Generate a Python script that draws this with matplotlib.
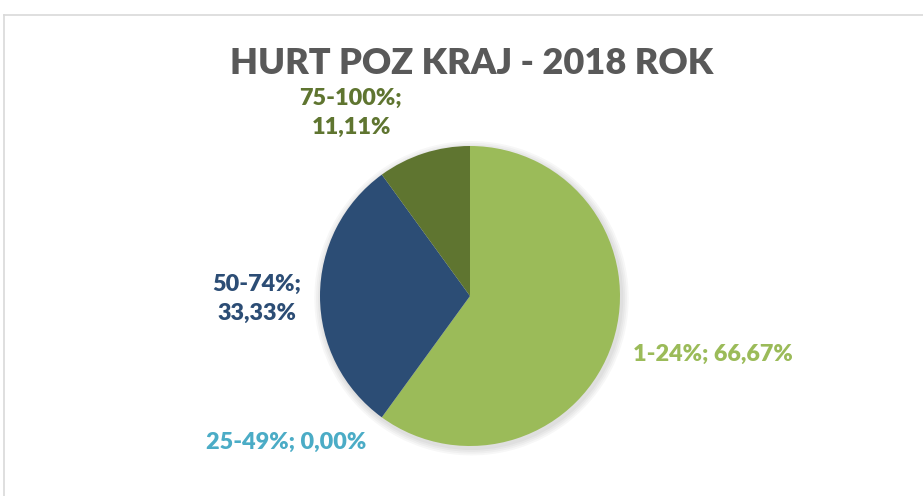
import matplotlib.pyplot as plt
from matplotlib.patches import Circle

title = "HURT POZ KRAJ - 2018 ROK"
categories = ["1-24%", "25-49%", "50-74%", "75-100%"]
values = [66.67, 0.00, 33.33, 11.11]
value_labels = ["66,67%", "0,00%", "33,33%", "11,11%"]
colors = ["#9BBB59", "#4BACC6", "#2C4D75", "#5F7530"]

W, H = 923, 496
fig = plt.figure(figsize=(W / 100, H / 100), dpi=100)
fig.patch.set_facecolor("white")

# chart area border (only left and top visible in the crop)
fig.add_artist(plt.Line2D([4 / W, 4 / W], [0, 1 - 15 / H], color="#D9D9D9", lw=1.2))
fig.add_artist(plt.Line2D([4 / W, 1], [1 - 15 / H, 1 - 15 / H], color="#D9D9D9", lw=1.2))

cx, cy, r = 470, 296, 150
ax = fig.add_axes([(cx - r * 1.1) / W, 1 - (cy + r * 1.1) / H, 2.2 * r / W, 2.2 * r / H])

# soft shadow
for i in range(4):
    ax.add_patch(Circle((0.01, -0.015), 1.0 + 0.012 * (i + 1), color="black",
                        alpha=0.03, lw=0, zorder=0))

ax.pie(values, colors=colors, startangle=90, counterclock=False, radius=1,
       wedgeprops=dict(linewidth=0))
ax.set_xlim(-1.1, 1.1)
ax.set_ylim(-1.1, 1.1)
ax.set_aspect("equal")
ax.axis("off")

fig.text(472 / W, 1 - 63 / H, title, ha="center", va="center", fontsize=26,
         fontweight="heavy", color="#595959", family="Lato")

font = dict(fontsize=16.8, fontweight="heavy", family="Lato")
fig.text(351 / W, 1 - 113 / H, f"{categories[3]};\n{value_labels[3]}", ha="center",
         va="center", color=colors[3], linespacing=1.45, **font)
fig.text(257 / W, 1 - 299 / H, f"{categories[2]};\n{value_labels[2]}", ha="center",
         va="center", color=colors[2], linespacing=1.45, **font)
fig.text(286 / W, 1 - 442 / H, f"{categories[1]}; {value_labels[1]}", ha="center",
         va="center", color=colors[1], **font)
fig.text(633 / W, 1 - 354 / H, f"{categories[0]}; {value_labels[0]}", ha="left",
         va="center", color=colors[0], **font)

fig.savefig("out.png", dpi=100)
